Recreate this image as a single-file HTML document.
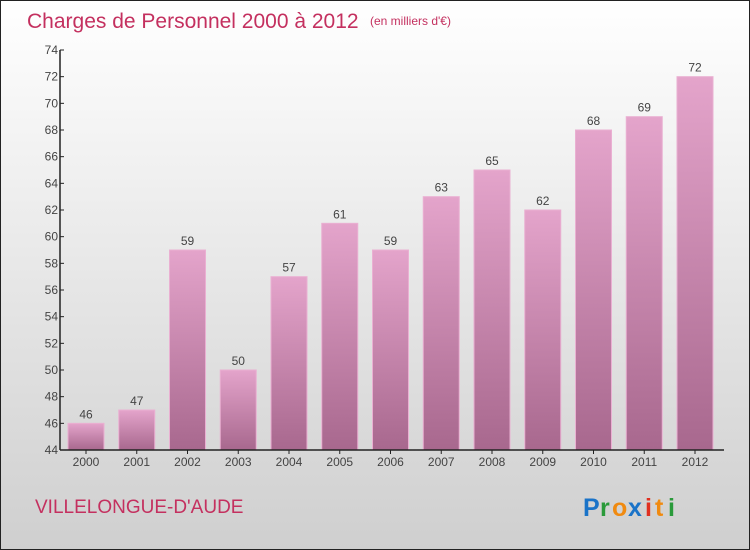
<!DOCTYPE html>
<html><head><meta charset="utf-8"><style>
body{margin:0}
svg{display:block;font-family:"Liberation Sans",sans-serif}
</style></head><body>
<svg id="c" width="750" height="550" viewBox="0 0 750 550">
<defs>
<linearGradient id="bg" x1="0" y1="0" x2="0" y2="1"><stop offset="0" stop-color="#ffffff"/><stop offset="1" stop-color="#cfcfcf"/></linearGradient>
<linearGradient id="bar" x1="0" y1="0" x2="0" y2="1"><stop offset="0" stop-color="#e4a4cb"/><stop offset="1" stop-color="#a8688e"/></linearGradient>
</defs>
<rect x="0.5" y="0.5" width="749" height="549" fill="url(#bg)" stroke="#222"/>
<text x="27" y="28" font-size="21" fill="#c4305f">Charges de Personnel 2000 à 2012</text>
<text x="370" y="25" font-size="12" fill="#c4305f">(en milliers d'€)</text>
<text x="35" y="513" font-size="19" fill="#c4305f">VILLELONGUE-D'AUDE</text>
<g font-size="25" font-weight="bold"><text x="583" y="516" fill="#1a73c8">P</text><text x="600" y="516" fill="#2a9a3a">r</text><text x="612" y="516" fill="#f08a10">o</text><text x="628" y="516" fill="#1a73c8">x</text><text x="645" y="516" fill="#e03020">i</text><text x="655" y="516" fill="#f08a10">t</text><text x="668" y="516" fill="#2a9a3a">i</text></g>
<g id="plot"></g>
</svg>
<script>
const categories=["2000","2001","2002","2003","2004","2005","2006","2007","2008","2009","2010","2011","2012"];
const values=[46,47,59,50,57,61,59,63,65,62,68,69,72];
const yTicks=[44,46,48,50,52,54,56,58,60,62,64,66,68,70,72,74];
const NS="http://www.w3.org/2000/svg";
const plotG=document.getElementById('plot');
const yMin=44,yMax=74,pTop=50,pBot=450,pLeft=60;
const yS=v=>pBot-(v-yMin)/(yMax-yMin)*(pBot-pTop);
const xS=i=>86+i*50.75;
function mk(t,a){const e=document.createElementNS(NS,t);for(const k in a)e.setAttribute(k,a[k]);plotG.appendChild(e);return e;}
values.forEach((v,i)=>{
 const r=mk('rect',{x:xS(i)-18,y:yS(v),width:36,height:pBot-yS(v),fill:'url(#bar)',stroke:'#eab0d2','stroke-width':1});
 
 
 const t=mk('text',{x:xS(i),y:yS(v)-5,'text-anchor':'middle','font-size':12,fill:'#444'});
 t.textContent=v;
 
 
 const c=mk('text',{x:xS(i),y:pBot+16,'text-anchor':'middle','font-size':12,fill:'#444'});
 c.textContent=categories[i];
 
 
 mk('line',{x1:xS(i),x2:xS(i),y1:pBot,y2:pBot+4,stroke:'#222'});
});
yTicks.forEach(v=>{
 mk('line',{x1:pLeft,x2:pLeft+4,y1:yS(v),y2:yS(v),stroke:'#222'});
 const t=mk('text',{x:pLeft-2,y:yS(v)+4,'text-anchor':'end','font-size':12,fill:'#444'});
 t.textContent=v;
 
 
});
const ya=mk('line',{x1:pLeft,x2:pLeft,y1:pTop,y2:pBot,stroke:'#222','stroke-width':1.5});


const xa=mk('line',{x1:pLeft,x2:724,y1:pBot,y2:pBot,stroke:'#222','stroke-width':1.5});


</script>
</body></html>
